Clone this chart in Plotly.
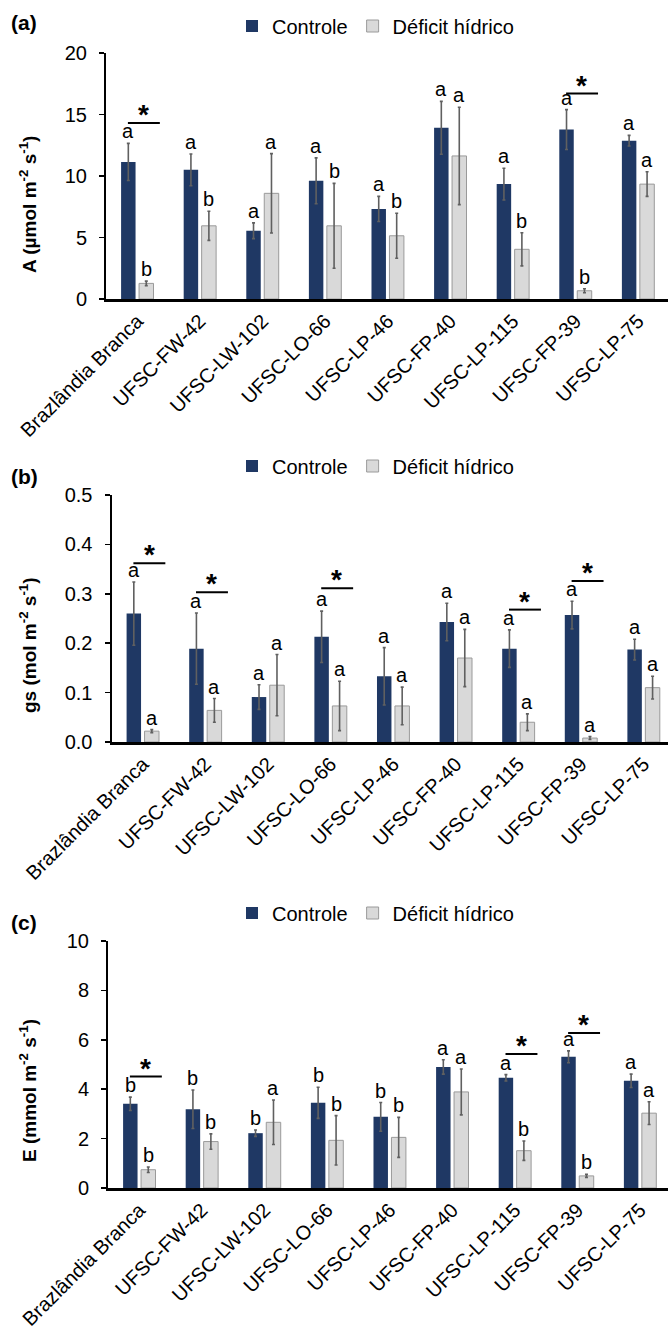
import plotly.graph_objects as go

categories = ["Brazlândia Branca", "UFSC-FW-42", "UFSC-LW-102", "UFSC-LO-66", "UFSC-LP-46",
              "UFSC-FP-40", "UFSC-LP-115", "UFSC-FP-39", "UFSC-LP-75"]
series_names = ["Controle", "Déficit hídrico"]

# (a) A (µmol m-2 s-1)
A_ctrl = [11.14, 10.50, 5.55, 9.61, 7.32, 13.92, 9.34, 13.78, 12.87]
A_ctrl_se = [1.51, 1.29, 0.64, 1.86, 1.02, 2.15, 1.29, 1.62, 0.43]
A_def = [1.27, 5.95, 8.59, 5.95, 5.14, 11.63, 4.04, 0.67, 9.34]
A_def_se = [0.18, 1.18, 3.23, 3.45, 1.83, 3.96, 1.35, 0.16, 1.00]
A_ctrl_letters = ["a", "a", "a", "a", "a", "a", "a", "a", "a"]
A_def_letters = ["b", "b", "a", "b", "b", "a", "b", "b", "a"]
A_star_idx = [0, 7]
A_star_y = [14.3, 16.7]

# (b) gs (mol m-2 s-1)
gs_ctrl = [0.260, 0.189, 0.091, 0.213, 0.133, 0.243, 0.189, 0.257, 0.187]
gs_ctrl_se = [0.064, 0.072, 0.025, 0.052, 0.058, 0.038, 0.038, 0.028, 0.021]
gs_def = [0.022, 0.064, 0.115, 0.073, 0.073, 0.170, 0.040, 0.008, 0.110]
gs_def_se = [0.003, 0.024, 0.062, 0.050, 0.038, 0.058, 0.017, 0.003, 0.023]
gs_ctrl_letters = ["a", "a", "a", "a", "a", "a", "a", "a", "a"]
gs_def_letters = ["a", "a", "a", "a", "a", "a", "a", "a", "a"]
gs_star_idx = [0, 1, 3, 6, 7]
gs_star_y = [0.362, 0.303, 0.311, 0.268, 0.326]

# (c) E (mmol m-2 s-1)
E_ctrl = [3.41, 3.19, 2.22, 3.45, 2.88, 4.90, 4.46, 5.31, 4.34]
E_ctrl_se = [0.27, 0.78, 0.13, 0.63, 0.58, 0.29, 0.13, 0.24, 0.27]
E_def = [0.74, 1.88, 2.66, 1.93, 2.05, 3.89, 1.51, 0.49, 3.03]
E_def_se = [0.11, 0.31, 0.90, 1.00, 0.81, 0.93, 0.39, 0.06, 0.46]
E_ctrl_letters = ["b", "b", "b", "b", "b", "a", "a", "a", "a"]
E_def_letters = ["b", "b", "a", "b", "b", "a", "b", "b", "a"]
E_star_idx = [0, 6, 7]
E_star_y = [4.51, 5.43, 6.28]

W, H = 668, 1333
FONT = "Liberation Sans, Arial, sans-serif"
NAVY = "#1F3864"
GREY = "#D9D9D9"

panels = [
    dict(label="(a)", title="A (µmol m<sup>-2</sup> s<sup>-1</sup>)",
         ctrl=A_ctrl, ctrl_se=A_ctrl_se, dfc=A_def, dfc_se=A_def_se,
         lc=A_ctrl_letters, ld=A_def_letters, si=A_star_idx, sy=A_star_y,
         yr=[0, 20], dt=5, fmt="d", x0=106, top=53, bot=299, lab_y=22.5, leg_y=26, tit_y=205),
    dict(label="(b)", title="gs (mol m<sup>-2</sup> s<sup>-1</sup>)",
         ctrl=gs_ctrl, ctrl_se=gs_ctrl_se, dfc=gs_def, dfc_se=gs_def_se,
         lc=gs_ctrl_letters, ld=gs_def_letters, si=gs_star_idx, sy=gs_star_y,
         yr=[0, 0.5], dt=0.1, fmt=".1f", x0=111.5, top=495, bot=742, lab_y=476, leg_y=466, tit_y=645),
    dict(label="(c)", title="E (mmol m<sup>-2</sup> s<sup>-1</sup>)",
         ctrl=E_ctrl, ctrl_se=E_ctrl_se, dfc=E_def, dfc_se=E_def_se,
         lc=E_ctrl_letters, ld=E_def_letters, si=E_star_idx, sy=E_star_y,
         yr=[0, 10], dt=2, fmt="d", x0=108, top=941, bot=1188, lab_y=923, leg_y=913, tit_y=1091),
]

fig = go.Figure()
annotations = []
shapes = []
layout = {}
CAT_PX = 62.6
OFF = 0.1435

for k, p in enumerate(panels):
    sfx = "" if k == 0 else str(k + 1)
    xa, ya = "x" + sfx, "y" + sfx
    leg = "legend" + sfx
    fig.add_trace(go.Bar(
        x=categories, y=p["ctrl"], name=series_names[0], xaxis=xa, yaxis=ya,
        marker=dict(color=NAVY, line=dict(width=0)), legend=leg,
        error_y=dict(type="data", array=p["ctrl_se"], color="#606060", thickness=1.6, width=1.5),
        offsetgroup="c", showlegend=True))
    fig.add_trace(go.Bar(
        x=categories, y=p["dfc"], name=series_names[1], xaxis=xa, yaxis=ya,
        marker=dict(color=GREY, line=dict(color="#9A9A9A", width=1)), legend=leg,
        error_y=dict(type="data", array=p["dfc_se"], color="#606060", thickness=1.6, width=1.5),
        offsetgroup="d", showlegend=True))

    xr_end = -0.5 + (W - p["x0"]) / CAT_PX
    layout["xaxis" + sfx] = dict(
        domain=[p["x0"] / W, 1], range=[-0.5, xr_end], anchor=ya, automargin=False,
        showline=True, linecolor="black", linewidth=2.5, ticks="",
        tickangle=-45, tickfont=dict(family=FONT, size=20, color="black"),
        showgrid=False, zeroline=False, fixedrange=True)
    y0, y1 = p["yr"]
    nt = int(round((y1 - y0) / p["dt"]))
    tv = [y0 + i * p["dt"] for i in range(nt + 1)]
    tt = [format(v, ".1f") if p["fmt"] == ".1f" else str(int(round(v))) for v in tv]
    layout["yaxis" + sfx] = dict(
        domain=[1 - p["bot"] / H, 1 - p["top"] / H], range=[y0, y1], anchor=xa, automargin=False,
        showline=True, linecolor="black", linewidth=2, ticks="outside", ticklen=5,
        tickwidth=1.5, tickcolor="black", tickvals=tv, ticktext=tt,
        ticklabelstandoff=8,
        tickfont=dict(family=FONT, size=20, color="black"),
        showgrid=False, zeroline=False, fixedrange=True)
    layout[leg] = dict(
        orientation="h", x=232 / W, xanchor="left", y=1 - p["leg_y"] / H, yanchor="middle",
        font=dict(family=FONT, size=20, color="black"), itemwidth=30,
        bgcolor="rgba(0,0,0,0)", traceorder="normal")

    # significance letters
    for i in range(len(categories)):
        annotations.append(dict(
            x=i - OFF, y=p["ctrl"][i] + p["ctrl_se"][i], xref=xa, yref=ya,
            text=p["lc"][i], showarrow=False, yanchor="bottom", yshift=-1,
            font=dict(family=FONT, size=20, color="black")))
        annotations.append(dict(
            x=i + OFF, y=p["dfc"][i] + p["dfc_se"][i], xref=xa, yref=ya,
            text=p["ld"][i], showarrow=False, yanchor="bottom", yshift=-1,
            font=dict(family=FONT, size=20, color="black")))
    # stars
    for i, yv in zip(p["si"], p["sy"]):
        shapes.append(dict(type="line", xref=xa, yref=ya, x0=i - 0.15, x1=i + 0.36,
                           y0=yv, y1=yv, line=dict(color="black", width=2)))
        annotations.append(dict(
            x=i + 0.1, y=yv, xref=xa, yref=ya, text="<b>*</b>", showarrow=False,
            yanchor="bottom", yshift=-9, font=dict(family=FONT, size=28, color="black")))
    # panel label
    annotations.append(dict(
        x=24 / W, y=1 - p["lab_y"] / H, xref="paper", yref="paper", text="<b>" + p["label"] + "</b>",
        showarrow=False, xanchor="center", yanchor="middle",
        font=dict(family=FONT, size=21, color="black")))
    # y title
    annotations.append(dict(
        x=28 / W, y=1 - p["tit_y"] / H, xref="paper", yref="paper", text="<b>" + p["title"] + "</b>",
        showarrow=False, xanchor="center", yanchor="middle", textangle=-90,
        font=dict(family=FONT, size=19, color="black")))

fig.update_layout(
    width=W, height=H, margin=dict(l=0, r=0, t=0, b=0, autoexpand=False),
    paper_bgcolor="white", plot_bgcolor="white",
    barmode="group", bargap=0.426, bargroupgap=0.195,
    annotations=annotations, shapes=shapes, **layout)

fig.write_html("out.html", config={"displayModeBar": False, "staticPlot": True},
               post_script="document.body.style.margin='0';document.body.style.overflow='hidden';")
